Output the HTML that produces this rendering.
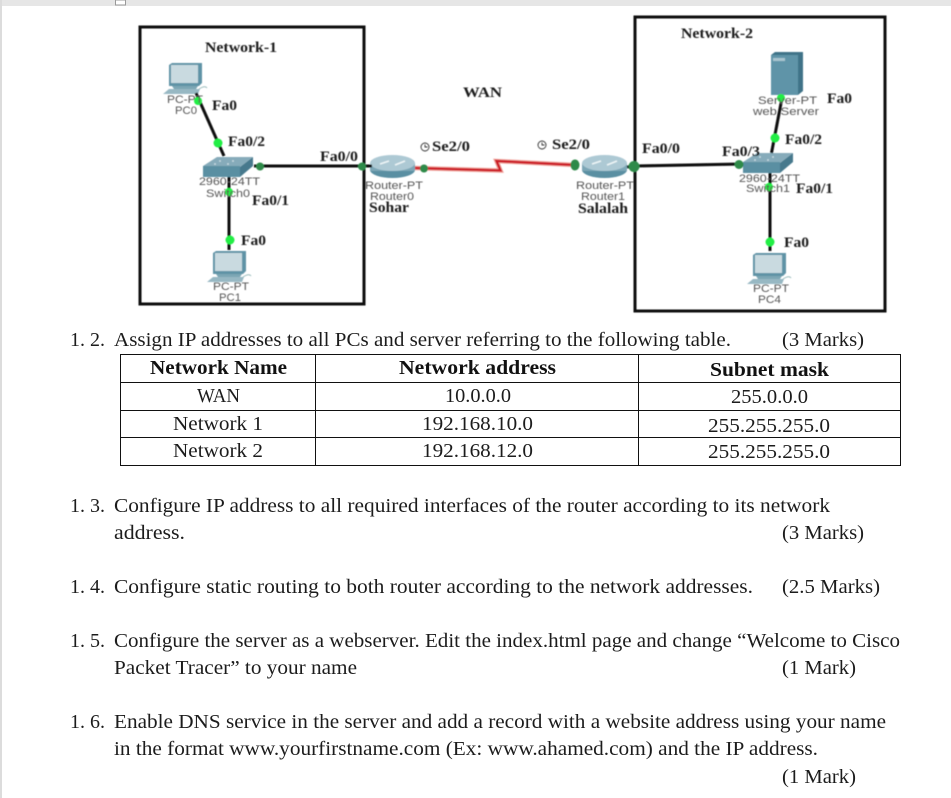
<!DOCTYPE html>
<html><head><meta charset="utf-8"><style>
html,body{margin:0;padding:0;background:#fff}
svg{display:block}
.t{font-family:"Liberation Serif",serif;font-size:20px;fill:#1c1c1c}
.b{font-family:"Liberation Serif",serif;font-size:20px;font-weight:bold;fill:#111}
.l{font-family:"Liberation Serif",serif;font-size:15px;font-weight:bold;fill:#1a1a1a}
.s{font-family:"Liberation Sans",sans-serif;font-size:11px;fill:#555}
</style></head><body>
<svg width="951" height="798" viewBox="0 0 951 798" xmlns="http://www.w3.org/2000/svg">
<defs>
<filter id="bl" x="-5%" y="-5%" width="110%" height="110%"><feGaussianBlur stdDeviation="0.5"/></filter>
<linearGradient id="rg" x1="0" y1="0" x2="0" y2="1"><stop offset="0" stop-color="#a9c6d2"/><stop offset="1" stop-color="#4f8497"/></linearGradient>
<g id="pc">
<path d="M0 2 L3 0 H33 V20 L30 23 H0 Z" fill="#5f93a6"/>
<rect x="2" y="2" width="27" height="18" fill="#c9dae0"/>
<path d="M3 23 H29 L27 26 H5 Z" fill="#7ba6b4"/>
<path d="M-6 31 L0 26 H31 L29 31 Z" fill="#97b8c3"/>
<path d="M30 26 q6 -4 8 -1" fill="none" stroke="#9bb" stroke-width="1"/>
</g>
<g id="sw">
<path d="M0 9 L14 0 H50 L37 10 Z" fill="#86abba"/>
<path d="M0 9 H37 V20 H0 Z" fill="#5a8fa2"/>
<path d="M37 10 L50 0 V9 L37 20 Z" fill="#46798d"/>
<g fill="#cfe0e6"><circle cx="17" cy="4" r="0.900"/><circle cx="30" cy="4" r="0.900"/><circle cx="12" cy="7" r="0.900"/><circle cx="25" cy="7" r="0.900"/></g>
</g>
<g id="rt">
<ellipse cx="22.500" cy="15" rx="22.500" ry="8" fill="#5a8fa2"/>
<rect x="0" y="8" width="45" height="8" fill="#7ba6b6"/>
<ellipse cx="22.500" cy="8" rx="22.500" ry="8" fill="#adc9d4"/>
<path d="M10 9 L19 6 M25 10 L35 6" stroke="#eef5f7" stroke-width="1.500"/>
</g>
</defs>

<rect x="0" y="0" width="951" height="6" fill="#e6e6e6"/>
<rect x="0" y="0" width="2" height="798" fill="#dcdcdc"/>
<rect x="115.500" y="0" width="10" height="5" fill="#fff" stroke="#999"/>

<g filter="url(#bl)">
<rect x="140" y="27" width="224" height="277" fill="none" stroke="#111" stroke-width="3"/>
<rect x="635" y="17" width="250" height="294" fill="none" stroke="#111" stroke-width="3"/>

<use href="#pc" x="169" y="63"/>
<use href="#pc" x="213" y="251"/>
<use href="#pc" x="753" y="253"/>
<use href="#sw" x="203" y="157"/>
<use href="#sw" x="743" y="153"/>
<use href="#rt" x="370" y="155"/>
<use href="#rt" x="582" y="155"/>
<path d="M771 55 L775 52 H803 V91 L798 95 H771 Z" fill="#3f7388"/>
<rect x="771" y="55" width="27" height="40" fill="#5f94a8"/>
<rect x="773" y="58" width="12" height="3" fill="#a9c4cf"/>

<g stroke="#0a0a0a" stroke-width="3" fill="none">
<path d="M196 93 L224 156"/>
<path d="M229 177 V250"/>
<path d="M254 166 H372"/>
<path d="M782 98 L771.500 153"/>
<path d="M770 173 V251"/>
<path d="M635 166 L742 164"/>
<path d="M627 167 L637 166"/>
</g>
<path d="M415 168 L500.500 170.500 L496.500 161 L575 165" fill="none" stroke="#f2a7a0" stroke-width="4.500"/>
<path d="M415 168 L500.500 170.500 L496.500 161 L575 165" fill="none" stroke="#cc1f26" stroke-width="2.500"/>

<g fill="#22ee44">
<circle cx="198" cy="101" r="4"/><circle cx="218" cy="143" r="4.500"/>
<circle cx="229" cy="192" r="4"/><circle cx="230" cy="240" r="4.500"/>
<circle cx="781" cy="98" r="4"/><circle cx="775" cy="138" r="4.500"/>
<circle cx="769" cy="187" r="4"/><circle cx="770" cy="242" r="4.500"/>
</g>
<g fill="#2f8a4a">
<circle cx="260" cy="166.500" r="4"/><circle cx="362" cy="166.500" r="4"/>
<circle cx="424" cy="168.500" r="4"/><ellipse cx="575" cy="165" rx="4.500" ry="5.500"/>
<circle cx="634" cy="166.500" r="5.500"/><circle cx="739" cy="164.500" r="4.500"/>
</g>

<text class="l" x="205" y="52" textLength="72" lengthAdjust="spacingAndGlyphs">Network-1</text>
<text class="l" x="681" y="38" textLength="72" lengthAdjust="spacingAndGlyphs">Network-2</text>
<text class="l" x="463" y="97" textLength="39" lengthAdjust="spacingAndGlyphs">WAN</text>
<text class="l" x="212" y="110" textLength="25" lengthAdjust="spacingAndGlyphs">Fa0</text>
<text class="l" x="228" y="146" textLength="37" lengthAdjust="spacingAndGlyphs">Fa0/2</text>
<text class="l" x="320" y="161" textLength="38" lengthAdjust="spacingAndGlyphs">Fa0/0</text>
<text class="l" x="252" y="205" textLength="37" lengthAdjust="spacingAndGlyphs">Fa0/1</text>
<text class="l" x="241" y="245" textLength="25" lengthAdjust="spacingAndGlyphs">Fa0</text>
<text class="l" x="432" y="151" textLength="38" lengthAdjust="spacingAndGlyphs">Se2/0</text>
<text class="l" x="552" y="149" textLength="38" lengthAdjust="spacingAndGlyphs">Se2/0</text>
<g fill="none" stroke="#333" stroke-width="0.900">
<circle cx="425" cy="147" r="4"/><path d="M425 144.500 V147 H427.500"/>
<circle cx="542" cy="145" r="4"/><path d="M542 142.500 V145 H544.500"/>
</g>
<text class="l" x="642" y="153" textLength="38" lengthAdjust="spacingAndGlyphs">Fa0/0</text>
<text class="l" x="722" y="156" textLength="38" lengthAdjust="spacingAndGlyphs">Fa0/3</text>
<text class="l" x="827" y="103" textLength="25" lengthAdjust="spacingAndGlyphs">Fa0</text>
<text class="l" x="785" y="144" textLength="37" lengthAdjust="spacingAndGlyphs">Fa0/2</text>
<text class="l" x="796" y="193" textLength="37" lengthAdjust="spacingAndGlyphs">Fa0/1</text>
<text class="l" x="784" y="247" textLength="25" lengthAdjust="spacingAndGlyphs">Fa0</text>
<text class="l" x="369" y="212" textLength="40" lengthAdjust="spacingAndGlyphs">Sohar</text>
<text class="l" x="578" y="213" textLength="50" lengthAdjust="spacingAndGlyphs">Salalah</text>

<text class="s" x="167" y="103" textLength="36" lengthAdjust="spacingAndGlyphs">PC-PT</text>
<text class="s" x="175" y="114" textLength="22" lengthAdjust="spacingAndGlyphs">PC0</text>
<text class="s" x="199" y="185" textLength="61" lengthAdjust="spacingAndGlyphs">2960-24TT</text>
<text class="s" x="206" y="197" textLength="44" lengthAdjust="spacingAndGlyphs">Switch0</text>
<text class="s" x="213" y="290" textLength="36" lengthAdjust="spacingAndGlyphs">PC-PT</text>
<text class="s" x="219" y="301" textLength="22" lengthAdjust="spacingAndGlyphs">PC1</text>
<text class="s" x="365" y="189" textLength="58" lengthAdjust="spacingAndGlyphs">Router-PT</text>
<text class="s" x="370" y="200" textLength="44" lengthAdjust="spacingAndGlyphs">Router0</text>
<text class="s" x="576" y="189" textLength="58" lengthAdjust="spacingAndGlyphs">Router-PT</text>
<text class="s" x="581" y="200" textLength="44" lengthAdjust="spacingAndGlyphs">Router1</text>
<text class="s" x="758" y="104" textLength="59" lengthAdjust="spacingAndGlyphs">Server-PT</text>
<text class="s" x="753" y="115" textLength="66" lengthAdjust="spacingAndGlyphs">web Server</text>
<text class="s" x="739" y="182" textLength="61" lengthAdjust="spacingAndGlyphs">2960-24TT</text>
<text class="s" x="746" y="192" textLength="44" lengthAdjust="spacingAndGlyphs">Switch1</text>
<text class="s" x="753" y="292" textLength="36" lengthAdjust="spacingAndGlyphs">PC-PT</text>
<text class="s" x="758" y="303" textLength="23" lengthAdjust="spacingAndGlyphs">PC4</text>
</g>

<g stroke="#111" stroke-width="1" fill="none">
<rect x="120.500" y="354.500" width="780" height="111"/>
<path d="M120.500 382.500 H900.500 M120.500 410.500 H900.500 M120.500 437.500 H900.500 M315.500 354.500 V465.500 M638.500 354.500 V465.500"/>
</g>

<text class="t" x="70" y="346" textLength="35" lengthAdjust="spacingAndGlyphs">1. 2.</text>
<text class="t" x="114" y="346" textLength="617" lengthAdjust="spacingAndGlyphs">Assign IP addresses to all PCs and server referring to the following table.</text>
<text class="t" x="782" y="346" textLength="82" lengthAdjust="spacingAndGlyphs">(3 Marks)</text>

<text class="b" x="150" y="374" textLength="137" lengthAdjust="spacingAndGlyphs">Network Name</text>
<text class="b" x="399" y="374" textLength="157" lengthAdjust="spacingAndGlyphs">Network address</text>
<text class="b" x="710" y="376" textLength="119" lengthAdjust="spacingAndGlyphs">Subnet mask</text>
<text class="t" x="197" y="402" textLength="43" lengthAdjust="spacingAndGlyphs">WAN</text>
<text class="t" x="445" y="402" textLength="66" lengthAdjust="spacingAndGlyphs">10.0.0.0</text>
<text class="t" x="731" y="403" textLength="77" lengthAdjust="spacingAndGlyphs">255.0.0.0</text>
<text class="t" x="173" y="430" textLength="90" lengthAdjust="spacingAndGlyphs">Network 1</text>
<text class="t" x="422" y="430" textLength="111" lengthAdjust="spacingAndGlyphs">192.168.10.0</text>
<text class="t" x="708" y="432" textLength="122" lengthAdjust="spacingAndGlyphs">255.255.255.0</text>
<text class="t" x="173" y="457" textLength="90" lengthAdjust="spacingAndGlyphs">Network 2</text>
<text class="t" x="422" y="457" textLength="111" lengthAdjust="spacingAndGlyphs">192.168.12.0</text>
<text class="t" x="708" y="458" textLength="122" lengthAdjust="spacingAndGlyphs">255.255.255.0</text>

<text class="t" x="70" y="512" textLength="35" lengthAdjust="spacingAndGlyphs">1. 3.</text>
<text class="t" x="114" y="512" textLength="716" lengthAdjust="spacingAndGlyphs">Configure IP address to all required interfaces of the router according to its network</text>
<text class="t" x="114" y="539" textLength="71" lengthAdjust="spacingAndGlyphs">address.</text>
<text class="t" x="782" y="539" textLength="82" lengthAdjust="spacingAndGlyphs">(3 Marks)</text>

<text class="t" x="70" y="593" textLength="35" lengthAdjust="spacingAndGlyphs">1. 4.</text>
<text class="t" x="114" y="593" textLength="639" lengthAdjust="spacingAndGlyphs">Configure static routing to both router according to the network addresses.</text>
<text class="t" x="782" y="593" textLength="98" lengthAdjust="spacingAndGlyphs">(2.5 Marks)</text>

<text class="t" x="70" y="647" textLength="35" lengthAdjust="spacingAndGlyphs">1. 5.</text>
<text class="t" x="114" y="647" textLength="786" lengthAdjust="spacingAndGlyphs">Configure the server as a webserver. Edit the index.html page and change “Welcome to Cisco</text>
<text class="t" x="114" y="674" textLength="243" lengthAdjust="spacingAndGlyphs">Packet Tracer” to your name</text>
<text class="t" x="782" y="674" textLength="74" lengthAdjust="spacingAndGlyphs">(1 Mark)</text>

<text class="t" x="70" y="728" textLength="35" lengthAdjust="spacingAndGlyphs">1. 6.</text>
<text class="t" x="114" y="728" textLength="772" lengthAdjust="spacingAndGlyphs">Enable DNS service in the server and add a record with a website address using your name</text>
<text class="t" x="114" y="755" textLength="704" lengthAdjust="spacingAndGlyphs">in the format www.yourfirstname.com (Ex: www.ahamed.com) and the IP address.</text>
<text class="t" x="782" y="783" textLength="74" lengthAdjust="spacingAndGlyphs">(1 Mark)</text>
</svg>
</body></html>
